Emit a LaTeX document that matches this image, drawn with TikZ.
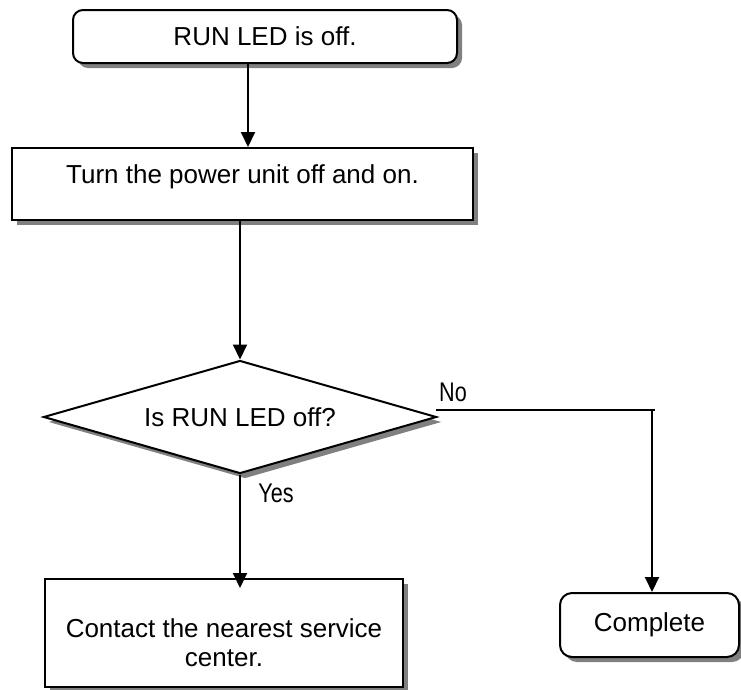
\documentclass[tikz,border=0pt]{standalone}
\usepackage{fontspec}
\setmainfont{Liberation Sans}
\newfontfamily\narrowfont[FakeStretch=0.8]{Liberation Sans}
\usetikzlibrary{shapes.geometric,shadows,arrows.meta}
\begin{document}
\begin{tikzpicture}[x=1pt,y=-1pt,
  font=\fontsize{26}{29}\selectfont,
  shd/.style={drop shadow={shadow xshift=5pt,shadow yshift=-5pt,fill=black!50,opacity=1}},
  box/.style={draw, line width=2pt, fill=white, shd, inner sep=0pt, align=center},
  rbox/.style={box, rounded corners=10pt},
  decbox/.style={box, diamond, aspect=3.48},
  arr/.style={line width=2pt, -{Triangle[length=15pt,width=14pt]}},
  ln/.style={line width=2pt},
  lbl/.style={font=\narrowfont\fontsize{27}{29}\selectfont, inner sep=0pt}
]
\useasboundingbox (0,0) rectangle (741,689);
\node[rbox, minimum width=384pt, minimum height=53pt] (start) at (265,36.5) {RUN LED is off.};
\node[box, minimum width=461pt, minimum height=72pt] (turn) at (242.5,184) {};
\node[inner sep=0pt] (turntext) at (242.5,177) {Turn the power unit off and on.};
\node[decbox, minimum width=393pt, minimum height=113pt] (dec) at (240,417) {Is RUN LED off?};
\node[box, minimum width=358pt, minimum height=108pt] (contact) at (224,633) {};
\node[inner sep=0pt, align=center] (contacttext) at (224,643) {Contact the nearest service\\center.};
\node[rbox, rounded corners=12pt, minimum width=179pt, minimum height=64pt] (complete) at (649.5,625) {Complete};
\coordinate (a1) at (248,0);
\coordinate (nostart) at (436,410);
\coordinate (noend) at (655,410);
\coordinate (nodown) at (652,410);
\coordinate (ctip) at (239,588);
\draw[arr] (start.south -| a1) -- (turn.north -| a1);
\draw[arr] (turn.south -| dec.north) -- (dec.north);
\draw[arr] (dec.south) -- (dec.south |- ctip);
\draw[ln] (nostart) -- (noend);
\draw[arr] (nodown) -- (nodown |- complete.north);
\node[lbl] (nolbl) at (453,392) {No};
\node[lbl] (yeslbl) at (276,493) {Yes};
\end{tikzpicture}
\end{document}
